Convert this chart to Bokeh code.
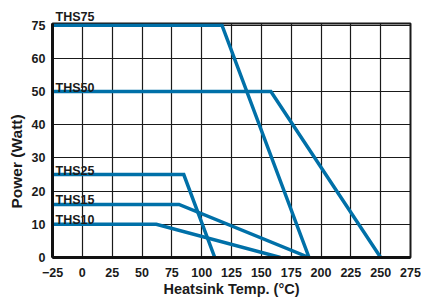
from bokeh.plotting import figure
from bokeh.models import Range1d, FixedTicker, Label, Title
from bokeh.embed import file_html
from bokeh.resources import INLINE

# ---- data ----
temp_ticks = [-25, 0, 25, 50, 75, 100, 125, 150, 175, 200, 225, 250, 275]
power_ticks = [0, 10, 20, 30, 40, 50, 60, 75]

series_names = ["THS75", "THS50", "THS25", "THS15", "THS10"]
ths75_temp = [-25, 117, 190]
ths75_power = [75, 75, 0]
ths50_temp = [-25, 158, 250]
ths50_power = [50, 50, 0]
ths25_temp = [-25, 85, 111]
ths25_power = [25, 25, 0]
ths15_temp = [-25, 81, 190]
ths15_power = [16, 16, 0]
ths10_temp = [-25, 62, 166]
ths10_power = [10, 10, 0]

series_temp = [ths75_temp, ths50_temp, ths25_temp, ths15_temp, ths10_temp]
series_power = [ths75_power, ths50_power, ths25_power, ths15_power, ths10_power]


# The power axis of the original is broken: 0..60 in steps of 10, then 60..75 in one step.
def axis_pos(w):
    v = w if w <= 60 else 60 + (w - 60) * 10 / 15
    return int(v) if float(v).is_integer() else v


BLUE = "#0070a8"
FONT = "Liberation Sans"
TXT = "#1a1a1a"

p = figure(width=421, height=300, output_backend="svg", toolbar_location=None,
           x_range=Range1d(temp_ticks[0], temp_ticks[-1]),
           y_range=Range1d(0, axis_pos(power_ticks[-1]) + 0.5),
           min_border_left=52, min_border_right=11, min_border_top=23, min_border_bottom=43)
p.background_fill_color = "white"
p.border_fill_color = "white"
p.outline_line_color = "#1a1a1a"
p.outline_line_width = 2

# axes
p.xaxis.ticker = FixedTicker(ticks=temp_ticks)
ypos_ticks = [axis_pos(v) for v in power_ticks]
p.yaxis.ticker = FixedTicker(ticks=ypos_ticks)
p.yaxis.major_label_overrides = {axis_pos(v): str(v) for v in power_ticks}

for ax in (p.xaxis[0], p.yaxis[0]):
    ax.axis_line_color = "#111111"
    ax.axis_line_width = 3
    ax.major_tick_in = 0
    ax.major_tick_out = 0
    ax.minor_tick_line_color = None
    ax.major_label_text_font = FONT
    ax.major_label_text_font_style = "bold"
    ax.major_label_text_font_size = "12.5px"
    ax.major_label_text_color = TXT
    ax.axis_label_text_font = FONT
    ax.axis_label_text_font_style = "bold"
    ax.axis_label_text_color = TXT

p.xaxis.axis_label = "Heatsink Temp. (°C)"
p.xaxis.axis_label_text_font_size = "14.5px"
p.xaxis.major_label_standoff = 10
p.xaxis.axis_label_standoff = 1
p.yaxis.major_label_standoff = 7

# y-axis title, placed lower than centre as in the original
p.add_layout(Title(text="Power (Watt)", align="left", offset=49, standoff=7,
                   text_font=FONT, text_font_style="bold", text_font_size="15.5px",
                   text_color=TXT), "left")

# grid
p.xgrid.ticker = FixedTicker(ticks=temp_ticks)
p.ygrid.ticker = FixedTicker(ticks=ypos_ticks)
for g in (p.xgrid[0], p.ygrid[0]):
    g.grid_line_color = "#1a1a1a"
    g.grid_line_width = 1.2
    g.grid_line_alpha = 1.0

# curves
for name, t, w in zip(series_names, series_temp, series_power):
    p.line(t, [axis_pos(v) for v in w], line_color=BLUE, line_width=3.5,
           line_join="miter")
    if w[0] == power_ticks[-1]:
        # top curve's name sits above the frame
        p.add_layout(Title(text=name, align="left", offset=3, standoff=0,
                           text_font=FONT, text_font_style="bold",
                           text_font_size="12.5px", text_color=TXT), "above")
    else:
        p.add_layout(Label(x=t[0], y=axis_pos(w[0]), text=name, x_offset=3, y_offset=4,
                           text_baseline="alphabetic", text_font=FONT,
                           text_font_style="bold", text_font_size="12.5px",
                           text_color=TXT))

open("out.html", "w").write(file_html(p, INLINE))
